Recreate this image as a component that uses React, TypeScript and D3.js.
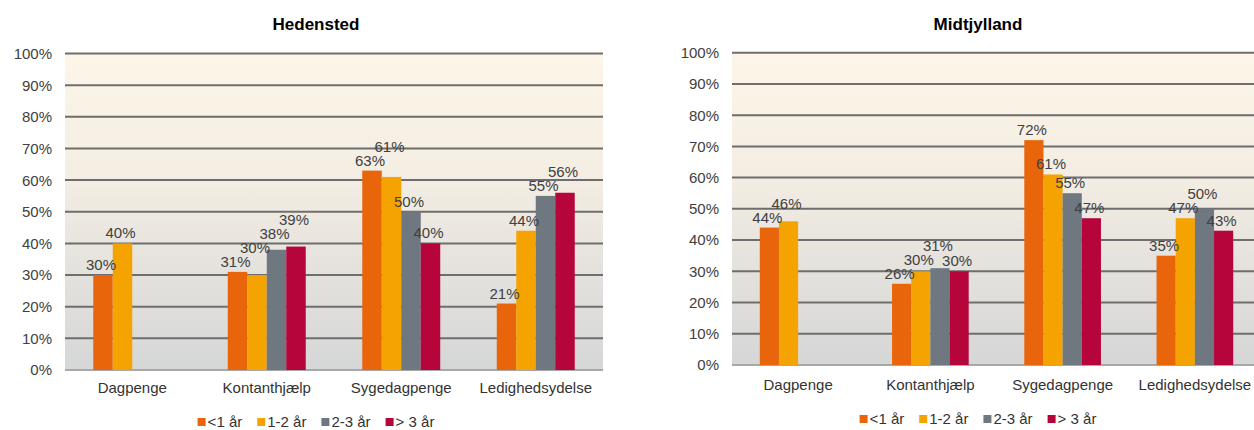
import * as d3 from 'd3';
import { useEffect, useRef } from 'react';

const categories = ['Dagpenge', 'Kontanthjælp', 'Sygedagpenge', 'Ledighedsydelse'];
const seriesNames = ['<1 år', '1-2 år', '2-3 år', '> 3 år'];
const seriesColors = ['#e8650c', '#f5a300', '#6f7780', '#b5053a'];
const yTicks = [0, 10, 20, 30, 40, 50, 60, 70, 80, 90, 100];

// values per series, in category order (null = no bar)
const hedensted = [
  [30, 31, 63, 21],
  [40, 30, 61, 44],
  [null, 38, 50, 55],
  [null, 39, 40, 56],
];
const midtjylland = [
  [44, 26, 72, 35],
  [46, 30, 61, 47],
  [null, 31, 55, 50],
  [null, 30, 47, 43],
];

const W = 1254;
const H = 430;
const FONT = 'Liberation Sans, Arial, sans-serif';

function drawPanel(svg, cfg) {
  const { title, values, x0, x1, yTop, yBottom, center, legendY, catY, id } = cfg;
  const g = svg.append('g');

  const x = d3.scaleBand().domain(categories).range([x0, x1]);
  const xs = d3.scaleBand().domain(seriesNames).range([0, x.bandwidth()]).paddingOuter(1.45);
  const y = d3.scaleLinear().domain([0, 100]).range([yBottom, yTop]);

  const grad = svg.append('defs').append('linearGradient')
    .attr('id', id).attr('x1', 0).attr('y1', 0).attr('x2', 0).attr('y2', 1);
  grad.append('stop').attr('offset', '0%').attr('stop-color', '#fdf6e8');
  grad.append('stop').attr('offset', '40%').attr('stop-color', '#f3ede3');
  grad.append('stop').attr('offset', '100%').attr('stop-color', '#d5d6d7');

  g.append('rect')
    .attr('x', x0).attr('y', yTop)
    .attr('width', x1 - x0).attr('height', yBottom - yTop)
    .attr('fill', `url(#${id})`);

  // gridlines
  g.append('g').selectAll('line').data(yTicks).join('line')
    .attr('x1', x0).attr('x2', x1)
    .attr('y1', (d) => y(d)).attr('y2', (d) => y(d))
    .attr('stroke', (d) => (d === 0 ? '#a8a8a8' : '#6e6e6e'))
    .attr('stroke-width', 2);

  // y tick labels
  g.append('g').selectAll('text').data(yTicks).join('text')
    .attr('x', x0 - 13).attr('y', (d) => y(d))
    .attr('dy', '0.36em')
    .attr('text-anchor', 'end')
    .attr('font-family', FONT).attr('font-size', 15).attr('fill', '#404040')
    .text((d) => `${d}%`);

  // bars
  const flat = [];
  values.forEach((arr, si) => arr.forEach((v, ci) => {
    if (v != null) flat.push({ s: seriesNames[si], si, c: categories[ci], ci, v });
  }));
  flat.sort((a, b) => a.ci - b.ci || a.si - b.si);

  g.append('g').selectAll('rect').data(flat).join('rect')
    .attr('x', (d) => x(d.c) + xs(d.s))
    .attr('width', xs.bandwidth())
    .attr('y', (d) => y(d.v))
    .attr('height', (d) => y(0) - y(d.v))
    .attr('fill', (d) => seriesColors[d.si]);

  const labels = g.append('g').selectAll('text').data(flat).join('text')
    .attr('x', (d) => x(d.c) + xs(d.s) + xs.bandwidth() / 2 - 2)
    .attr('y', (d) => y(d.v) - 5)
    .attr('text-anchor', 'middle')
    .attr('font-family', FONT).attr('font-size', 15).attr('fill', '#404040')
    .text((d) => `${d.v}%`);

  // nudge labels upward where they would collide with the previous one in the group
  let prev = null;
  labels.each(function (d) {
    const node = this;
    let b = node.getBBox();
    if (prev && prev.ci === d.ci) {
      const pb = prev.box;
      const overlapX = b.x < pb.x + pb.width - 1 && b.x + b.width > pb.x + 1;
      const overlapY = b.y < pb.y + pb.height - 3 && b.y + b.height > pb.y + 3;
      if (overlapX && overlapY) {
        const yNow = +node.getAttribute('y');
        const shift = b.y + b.height - pb.y - 3;
        node.setAttribute('y', yNow - shift);
        b = node.getBBox();
      }
    }
    prev = { ci: d.ci, box: b };
  });

  // category labels
  g.append('g').selectAll('text').data(categories).join('text')
    .attr('x', (d) => x(d) + x.bandwidth() / 2)
    .attr('y', catY)
    .attr('text-anchor', 'middle')
    .attr('font-family', FONT).attr('font-size', 15).attr('fill', '#333')
    .text((d) => d);

  // title
  g.append('text')
    .attr('x', center).attr('y', 30)
    .attr('text-anchor', 'middle')
    .attr('font-family', FONT).attr('font-size', 17).attr('font-weight', 'bold').attr('fill', '#000')
    .text(title);

  // legend
  const lg = g.append('g');
  let cx = 0;
  seriesNames.forEach((name, i) => {
    const item = lg.append('g').attr('transform', `translate(${cx},0)`);
    item.append('rect').attr('x', 0).attr('y', -4).attr('width', 8).attr('height', 8)
      .attr('fill', seriesColors[i]);
    const t = item.append('text').attr('x', 10).attr('dy', '0.36em')
      .attr('font-family', FONT).attr('font-size', 15).attr('fill', '#333')
      .text(name);
    const w = t.node().getComputedTextLength();
    cx += 10 + w + 15;
  });
  const total = cx - 15;
  lg.attr('transform', `translate(${center - total / 2},${legendY})`);
}

export default function App() {
  const ref = useRef(null);

  useEffect(() => {
    const svg = d3.select(ref.current);
    svg.selectAll('*').remove();

    drawPanel(svg, {
      id: 'bgL', title: 'Hedensted', values: hedensted,
      x0: 65, x1: 603, yTop: 53.5, yBottom: 370,
      center: 316, legendY: 422, catY: 393,
    });
    drawPanel(svg, {
      id: 'bgR', title: 'Midtjylland', values: midtjylland,
      x0: 732, x1: 1261, yTop: 52.7, yBottom: 365,
      center: 978, legendY: 419, catY: 390,
    });
  }, []);

  return (
    <svg
      ref={ref}
      width={W}
      height={H}
      style={{ position: 'absolute', left: 0, top: 0, background: '#fff' }}
    />
  );
}
